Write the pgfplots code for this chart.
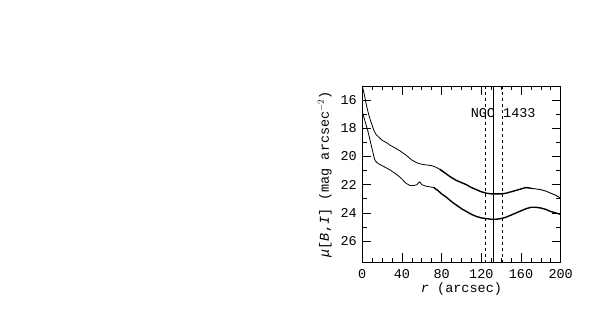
\documentclass[border=0pt]{standalone}
\usepackage{fontspec}
\setmainfont{Liberation Mono}
\usepackage{pgfplots}
\pgfplotsset{compat=1.18}
\begin{document}
\begin{tikzpicture}
\path[use as bounding box] (0pt,0pt) rectangle (598pt,318pt);
\begin{axis}[
  at={(362.3pt,55.7pt)}, anchor=south west,
  width=198.4pt, height=176.3pt, scale only axis,
  xmin=0, xmax=200, ymin=15, ymax=27.5, y dir=reverse,
  xtick={0,40,80,120,160,200}, minor x tick num=3,
  ytick={16,18,20,22,24,26}, minor y tick num=1,
  tick align=inside, ticks=both,
  xtick pos=both, ytick pos=both,
  major tick length=9pt, minor tick length=4.5pt,
  every tick/.style={black, line width=0.7pt},
  axis line style={line width=0.9pt},
  /pgf/number format/assume math mode=true,
  tick label style={font=\fontsize{13.5}{14}\selectfont},
  label style={font=\fontsize{13.5}{14}\selectfont},
  xticklabel style={yshift=-4pt},
  yticklabel style={xshift=-2pt},
  xlabel={\textit{r} (arcsec)},
  ylabel={\textit{μ}[\textit{B},\textit{I}] (mag arcsec$^{-2}$)},
  xlabel style={yshift=3pt},
  ylabel style={yshift=2pt},
]
\addplot[black, line width=0.8pt] coordinates {
(0,15.0) (2,15.6) (4,16.3) (6,16.9) (8,17.4) (10,17.8) (12,18.2) (14,18.45)
(17,18.65) (20,18.85) (24,19.0) (28,19.2) (32,19.35) (38,19.6) (44,19.9)
(50,20.25) (55,20.45) (60,20.55) (65,20.6) (70,20.65) (74,20.75) (78,20.9)
(82,21.1)
};
\addplot[black, line width=1.4pt] coordinates {
(78,20.9) (82,21.1) (86,21.3) (90,21.5) (95,21.7) (100,21.85) (105,22.0) (110,22.2)
(115,22.35) (120,22.5) (125,22.6) (130,22.65) (135,22.65) (140,22.65)
(145,22.6) (150,22.5) (155,22.4) (160,22.3) (165,22.2) (170,22.25)
};
\addplot[black, line width=0.9pt] coordinates {
(170,22.25) (175,22.3) (180,22.35) (185,22.45) (190,22.6) (195,22.75) (200,22.95)
};
\addplot[black, line width=0.8pt] coordinates {
(0,16.8) (2,17.3) (4,17.8) (6,18.3) (8,18.9) (10,19.5) (12,20.1) (13,20.3)
(16,20.5) (20,20.65) (24,20.8) (28,20.95) (32,21.15) (36,21.35) (40,21.6)
(44,21.9) (48,22.05) (52,22.05) (55,22.0) (57,21.85) (58,21.8) (60,22.0)
(64,22.1) (68,22.15) (72,22.2) (76,22.4)
};
\addplot[black, line width=1.4pt] coordinates {
(72,22.2) (76,22.4) (80,22.65) (85,22.9) (90,23.2)
(95,23.45) (100,23.7) (105,23.9) (110,24.1) (115,24.25) (120,24.35)
(125,24.4) (130,24.45) (135,24.45) (140,24.4) (145,24.3) (150,24.15)
(155,24.0) (160,23.85) (165,23.7) (170,23.6) (175,23.6) (180,23.65)
(185,23.75) (190,23.9) (195,24.0) (200,24.1)
};
\addplot[black, dashed, line width=0.7pt] coordinates {(124,15) (124,27.5)};
\addplot[black, line width=0.8pt] coordinates {(132.5,15) (132.5,27.5)};
\addplot[black, dashed, line width=0.7pt] coordinates {(141,15) (141,27.5)};
\node[font=\fontsize{13.5}{14}\selectfont] at (axis cs:142,16.9) {NGC 1433};
\end{axis}
\end{tikzpicture}
\end{document}
